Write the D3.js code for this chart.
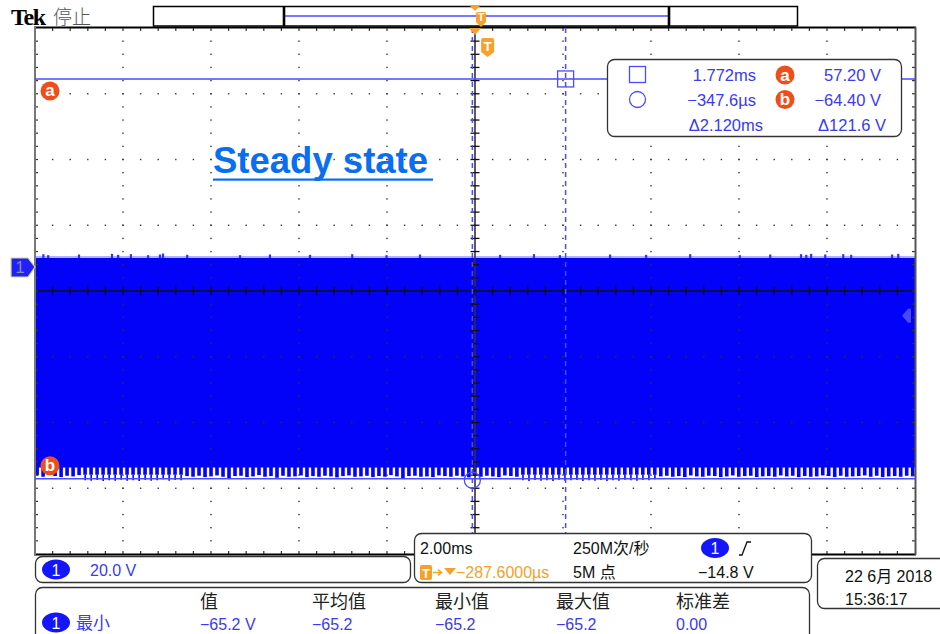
<!DOCTYPE html>
<html>
<head>
<meta charset="utf-8">
<script src="https://cdn.jsdelivr.net/npm/d3@7"></script>
<style>
body { margin: 0; background: #fff; }
svg { display: block; }
text { font-family: "Liberation Sans", Arial, "Noto Sans CJK SC", sans-serif; }
</style>
</head>
<body>
<div id="scope"></div>
<script>
// ---- data ----
var timeDomain = [-10.2876, 9.7124];   // ms, 2.00 ms/div, 10 div, centre at -287.6 µs
var voltDomain = [-87.3, 72.7];        // V, 20.0 V/div, 8 div
var cursorTimes = [1.772, -0.3476];    // ms  (square, circle)
var cursorVolts = [57.20, -64.40];     // V   (a, b)
var triggerTime = 0;
var triggerLevel = -14.8;
var groundLevel = 0;

// envelope of the dense ch1 trace
var bandTop = 2.74;
var bandBase = -61.0;
var topSpikeTimes = [-10.10, -9.99, -9.29, -8.54, -8.40, -8.11, -7.72, -7.45, -7.38, -6.83, -5.63, -4.95,
                     -4.04, -3.08, -2.30, -1.54, 0.28, 1.05, 1.64, 2.78, 3.60, 4.60, 5.73, 6.42,
                     7.12, 7.24, 7.35, 7.67, 8.08, 8.26, 9.19, 9.33];
var topSpikeVolts = [3.9, 3.6, 3.8, 4.0, 3.7, 3.9, 3.6, 3.8, 4.1, 3.7, 3.6, 3.8,
                     3.7, 3.9, 3.6, 3.8, 3.7, 3.9, 3.6, 3.8, 3.7, 3.9, 3.6, 3.8,
                     3.9, 3.7, 4.0, 3.8, 3.9, 3.7, 3.8, 4.0];
var bottomPeaks = [
  -63.4,-63.8,-63.2,-63.6,-63.9,-63.5,-63.7,-63.3,
  -64.9,-65.0,-64.8,-65.1,-64.9,-65.0,-64.7,-65.0,-64.9,-65.1,-64.8,-65.0,-64.9,-64.6,-65.0,-64.8,-64.9,
  -63.6,-63.8,-63.5,-63.9,-63.7,-63.4,-63.8,-64.2,-63.6,-63.5,
  -63.9,-63.7,-63.3,-63.8,-63.6,-64.1,-63.5,-63.8,-63.7,-63.4,
  -63.9,-63.6,-63.8,-63.5,-63.7,-64.0,-63.6,-63.4,-63.8,-63.7,
  -63.5,-63.9,-63.6,-63.8,-63.3,-63.7,-64.2,-63.6,-63.5,-63.8,
  -63.7,-63.9,-63.4,-63.6,-63.8,-63.5,-63.7,-64.0,-63.6,-63.8,
  -63.5,-63.7,-63.9,-63.4,-63.6,-63.8,
  -64.9,-65.1,-64.8,-65.0,-64.9,-65.1,-64.7,-65.0,-64.9,-64.8,-65.1,-64.9,-65.0,-64.8,-65.1,-64.9,-65.0,-64.7,-64.9,-65.0,-64.8,-64.9,-64.6,
  -63.7,-63.5,-63.8,-63.6,-63.9,-63.4,-63.7,-63.8,-63.5,-63.6,
  -63.9,-63.7,-63.4,-63.8,-63.6,-63.5,-63.9,-63.7,-63.6,-63.8,
  -63.4,-63.7,-63.5,-63.9,-63.6,-63.8,-63.7,-63.4,-63.6,-63.9,
  -63.5,-63.8,-63.7,-63.6,-63.4,-63.8,-63.5,-63.9,-63.7,-63.6,
  -63.8,-63.5,-63.7
];

// readouts
var readTimes = ["1.772ms", "\u2212347.6\u00b5s"];
var readVolts = ["57.20 V", "\u221264.40 V"];
var readDeltaT = "\u03942.120ms";
var readDeltaV = "\u0394121.6 V";
var chScale = "20.0 V";
var timeScale = "2.00ms";
var sampleRate = "250M\u6b21/\u79d2";
var recordLen = "5M \u70b9";
var trigPos = "\u2212287.6000\u00b5s";
var trigLevelText = "\u221214.8 V";
var measHeaders = ["\u503c", "\u5e73\u5747\u503c", "\u6700\u5c0f\u503c", "\u6700\u5927\u503c", "\u6807\u51c6\u5dee"];
var measValues = ["\u221265.2 V", "\u221265.2", "\u221265.2", "\u221265.2", "0.00"];
var measName = "\u6700\u5c0f";
var dateText = ["22 6\u6708 2018", "15:36:17"];

var W = 940, H = 634;
var plotL = 35, plotR = 915, plotT = 28, plotB = 554;

var waveBlue = "#0202f8";
var curBlue = "#4b4bff";
var txtBlue = "#3a3af2";
var orange = "#f7a12a";
var badgeRed = "#ee4f1a";

var svg = d3.select("#scope").append("svg")
    .attr("width", W)
    .attr("height", H);

var x = d3.scaleLinear().domain(timeDomain).range([plotL, plotR]);
var y = d3.scaleLinear().domain(voltDomain).range([plotB, plotT]);

// graticule positions
var divX = d3.range(11).map(function(i) { return timeDomain[0] + i * 2; });
var divY = d3.range(9).map(function(i) { return voltDomain[0] + i * 20; });
var subX = d3.range(51).map(function(i) { return timeDomain[0] + i * 0.4; });
var subY = d3.range(41).map(function(i) { return voltDomain[0] + i * 4; });

// ---- waveform ----
var wave = svg.append("g");

wave.append("rect")
    .attr("x", plotL)
    .attr("width", plotR - plotL)
    .attr("y", y(bandTop))
    .attr("height", y(bandBase) - y(bandTop))
    .attr("fill", waveBlue);

wave.append("line")
    .attr("x1", plotL).attr("x2", plotR)
    .attr("y1", y(bandTop) - 1).attr("y2", y(bandTop) - 1)
    .attr("stroke", "#6a6aff")
    .attr("stroke-width", 1);

wave.selectAll(".spikeTop")
    .data(topSpikeTimes)
    .enter()
    .append("rect")
    .attr("x", function(d) { return x(d) - 1; })
    .attr("width", 2.2)
    .attr("y", function(d, i) { return y(topSpikeVolts[i]); })
    .attr("height", function(d, i) { return y(bandTop) - y(topSpikeVolts[i]); })
    .attr("fill", "#3030ff");

var pulseAt = d3.scaleLinear()
    .domain([0, bottomPeaks.length - 1])
    .range([timeDomain[0] + 0.05, timeDomain[1] - 0.05]);

wave.selectAll(".pulse")
    .data(bottomPeaks)
    .enter()
    .append("rect")
    .attr("x", function(d, i) { return x(pulseAt(i)) - 1.9; })
    .attr("width", 3.6)
    .attr("y", y(bandBase) - 0.5)
    .attr("height", function(d) {
        var end = d < -64.2 ? -63.2 : d;
        return y(end) - y(bandBase) + 0.5;
    })
    .attr("fill", waveBlue);

wave.selectAll(".pulseTail")
    .data(bottomPeaks.map(function(d, i) { return { v: d, i: i }; }).filter(function(d) { return d.v < -64.2; }))
    .enter()
    .append("line")
    .attr("x1", function(d) { return x(pulseAt(d.i)); })
    .attr("x2", function(d) { return x(pulseAt(d.i)); })
    .attr("y1", y(-63.2))
    .attr("y2", function(d) { return y(d.v); })
    .attr("stroke", waveBlue)
    .attr("stroke-width", 1.6);

// ---- graticule ----
var grid = svg.append("g");

divX.slice(1, 10).forEach(function(t, i) {
    if (i === 4) return;
    subY.slice(1, 40).forEach(function(v) {
        grid.append("rect").attr("x", x(t) - 0.7).attr("y", y(v) - 0.7)
            .attr("width", 1.4).attr("height", 1.4).attr("fill", "#333");
    });
});
divY.slice(1, 8).forEach(function(v, j) {
    if (j === 3) return;
    subX.slice(1, 50).forEach(function(t) {
        grid.append("rect").attr("x", x(t) - 0.7).attr("y", y(v) - 0.7)
            .attr("width", 1.4).attr("height", 1.4).attr("fill", "#333");
    });
});

var cx = x(divX[5]), cy = y(divY[4]);

grid.append("line").attr("x1", plotL).attr("x2", plotR).attr("y1", cy).attr("y2", cy)
    .attr("stroke", "#111").attr("stroke-width", 1.6);
grid.append("line").attr("x1", cx).attr("x2", cx).attr("y1", plotT).attr("y2", plotB)
    .attr("stroke", "#333").attr("stroke-width", 1.6);

subX.slice(1, 50).forEach(function(t) {
    grid.append("line").attr("x1", x(t)).attr("x2", x(t)).attr("y1", cy - 4.5).attr("y2", cy + 4.5)
        .attr("stroke", "#111").attr("stroke-width", 1.3);
    grid.append("line").attr("x1", x(t)).attr("x2", x(t)).attr("y1", plotT).attr("y2", plotT + 3)
        .attr("stroke", "#333").attr("stroke-width", 1.2);
    grid.append("line").attr("x1", x(t)).attr("x2", x(t)).attr("y1", plotB - 3).attr("y2", plotB)
        .attr("stroke", "#333").attr("stroke-width", 1.2);
});
subY.slice(1, 40).forEach(function(v) {
    grid.append("line").attr("x1", cx - 4.5).attr("x2", cx + 4.5).attr("y1", y(v)).attr("y2", y(v))
        .attr("stroke", "#111").attr("stroke-width", 1.3);
    grid.append("line").attr("x1", plotL).attr("x2", plotL + 3).attr("y1", y(v)).attr("y2", y(v))
        .attr("stroke", "#333").attr("stroke-width", 1.2);
    grid.append("line").attr("x1", plotR - 3).attr("x2", plotR).attr("y1", y(v)).attr("y2", y(v))
        .attr("stroke", "#333").attr("stroke-width", 1.2);
});

// frame
grid.append("line").attr("x1", plotL - 1).attr("x2", plotR + 1).attr("y1", plotT - 0.5).attr("y2", plotT - 0.5)
    .attr("stroke", "#000").attr("stroke-width", 2);
grid.append("line").attr("x1", plotL - 1).attr("x2", plotR + 1).attr("y1", plotB + 0.5).attr("y2", plotB + 0.5)
    .attr("stroke", "#000").attr("stroke-width", 2.2);
grid.append("line").attr("x1", plotL).attr("x2", plotL).attr("y1", plotT - 1).attr("y2", plotB + 1)
    .attr("stroke", "#777").attr("stroke-width", 2);
grid.append("line").attr("x1", plotR + 0.5).attr("x2", plotR + 0.5).attr("y1", plotT - 1).attr("y2", plotB + 1)
    .attr("stroke", "#555").attr("stroke-width", 2);

// ---- cursors ----
var cur = svg.append("g");

cursorVolts.forEach(function(v) {
    cur.append("line").attr("x1", plotL).attr("x2", plotR).attr("y1", y(v)).attr("y2", y(v))
        .attr("stroke", curBlue).attr("stroke-width", 1.5);
});
cursorTimes.forEach(function(t) {
    cur.append("line").attr("x1", x(t)).attr("x2", x(t)).attr("y1", plotT).attr("y2", plotB)
        .attr("stroke", curBlue).attr("stroke-width", 1.5).attr("stroke-dasharray", "5,4");
});
cur.append("rect")
    .attr("x", x(cursorTimes[0]) - 8).attr("y", y(cursorVolts[0]) - 8)
    .attr("width", 16).attr("height", 16)
    .attr("fill", "none").attr("stroke", curBlue).attr("stroke-width", 1.3);
cur.append("circle")
    .attr("cx", x(cursorTimes[1])).attr("cy", y(cursorVolts[1]) + 1.5).attr("r", 8)
    .attr("fill", "none").attr("stroke", curBlue).attr("stroke-width", 1.3);

function badge(g, bx, by, letter) {
    g.append("circle").attr("cx", bx).attr("cy", by).attr("r", 9.5).attr("fill", badgeRed);
    g.append("text").attr("x", bx).attr("y", by + 5.5).attr("text-anchor", "middle")
        .attr("font-size", 17).attr("font-weight", "bold").attr("fill", "#fff").text(letter);
}
badge(cur, 50, y(cursorVolts[0]) + 12, "a");
badge(cur, 50, y(cursorVolts[1]) - 13, "b");

// channel 1 ground marker
var gy = y(groundLevel);
cur.append("path")
    .attr("d", "M11," + (gy - 9) + " H28 L35," + gy + " L28," + (gy + 10) + " H11 Z")
    .attr("fill", "#2020ff").attr("stroke", "#d8d890").attr("stroke-width", 1.2).attr("stroke-linejoin", "round");
cur.append("text").attr("x", 20).attr("y", gy + 6).attr("text-anchor", "middle")
    .attr("font-size", 17).attr("fill", "#8a8a9a").text("1");

// trigger level arrow on the right
var ty = y(triggerLevel);
cur.append("path")
    .attr("d", "M902," + ty + " L908," + (ty - 7) + " H911 V" + (ty + 7) + " H908 Z")
    .attr("fill", "#7878ff").attr("opacity", 0.6);

// trigger T markers
function tBadge(g, bx, by, w, h) {
    var r = 2;
    g.append("path")
        .attr("d", "M" + (bx - w / 2) + "," + (by + r) + " Q" + (bx - w / 2) + "," + by + " " + (bx - w / 2 + r) + "," + by +
            " H" + (bx + w / 2 - r) + " Q" + (bx + w / 2) + "," + by + " " + (bx + w / 2) + "," + (by + r) +
            " V" + (by + h - 5) + " L" + bx + "," + (by + h) + " L" + (bx - w / 2) + "," + (by + h - 5) + " Z")
        .attr("fill", orange);
    g.append("text").attr("x", bx).attr("y", by + h - 6).attr("text-anchor", "middle")
        .attr("font-size", h * 0.72).attr("font-weight", "bold").attr("fill", "#fff").text("T");
}
cur.append("path").attr("d", "M" + (cx - 6) + "," + plotT + " H" + (cx + 6) + " L" + cx + "," + (plotT + 7) + " Z")
    .attr("fill", orange);
tBadge(cur, x(triggerTime), 38, 13, 19);

// ---- top bar ----
var bar = svg.append("g");
bar.append("text").attr("x", 11).attr("y", 25)
    .style("font-family", "'Liberation Serif', serif").attr("font-weight", "bold")
    .attr("font-size", 24).attr("letter-spacing", -1.4).attr("fill", "#000").text("Tek");
bar.append("text").attr("x", 53).attr("y", 24)
    .style("font-family", "'Noto Sans CJK SC', sans-serif").attr("font-weight", 300)
    .attr("font-size", 19).attr("fill", "#555").text("\u505c\u6b62");
bar.append("rect").attr("x", 153.5).attr("y", 6.5).attr("width", 644).attr("height", 19.5)
    .attr("fill", "#fff").attr("stroke", "#000").attr("stroke-width", 1.5);
bar.append("line").attr("x1", 285).attr("x2", 668).attr("y1", 16).attr("y2", 16)
    .attr("stroke", curBlue).attr("stroke-width", 1.6);
[284, 669].forEach(function(bx) {
    bar.append("line").attr("x1", bx).attr("x2", bx).attr("y1", 6).attr("y2", 26.5)
        .attr("stroke", "#000").attr("stroke-width", 2.6);
});
bar.append("path").attr("d", "M" + (cx - 6) + ",5 H" + (cx + 6) + " L" + cx + ",11 Z").attr("fill", orange);
tBadge(bar, cx + 6, 12, 10, 15);

// ---- Steady state label ----
svg.append("text").attr("x", 213).attr("y", 173)
    .attr("font-size", 36.5).attr("font-weight", "bold").attr("fill", "#0a6ef0").text("Steady state");
svg.append("rect").attr("x", 213).attr("y", 178.5).attr("width", 220).attr("height", 2.2).attr("fill", "#0a6ef0");

// ---- cursor readout ----
var ro = svg.append("g");
ro.append("rect").attr("x", 607.5).attr("y", 59.5).attr("width", 294).attr("height", 77).attr("rx", 7)
    .attr("fill", "#fff").attr("stroke", "#333").attr("stroke-width", 1.3);
ro.append("rect").attr("x", 629.5).attr("y", 66.5).attr("width", 16).attr("height", 16)
    .attr("fill", "none").attr("stroke", curBlue).attr("stroke-width", 1.3);
ro.append("circle").attr("cx", 637.5).attr("cy", 99.5).attr("r", 8)
    .attr("fill", "none").attr("stroke", curBlue).attr("stroke-width", 1.3);
readTimes.forEach(function(s, i) {
    ro.append("text").attr("x", 756).attr("y", 81 + i * 24.5).attr("text-anchor", "end")
        .attr("font-size", 16.5).attr("fill", txtBlue).text(s);
});
readVolts.forEach(function(s, i) {
    ro.append("text").attr("x", 881).attr("y", 81 + i * 24.5).attr("text-anchor", "end")
        .attr("font-size", 16.5).attr("fill", txtBlue).text(s);
});
badge(ro, 785, 75, "a");
badge(ro, 785, 99.5, "b");
ro.append("text").attr("x", 763).attr("y", 130.5).attr("text-anchor", "end")
    .attr("font-size", 16.5).attr("fill", txtBlue).text(readDeltaT);
ro.append("text").attr("x", 886).attr("y", 130.5).attr("text-anchor", "end")
    .attr("font-size", 16.5).attr("fill", txtBlue).text(readDeltaV);

// ---- bottom panels ----
var bp = svg.append("g");

function panel(px, py, pw, ph) {
    bp.append("rect").attr("x", px).attr("y", py).attr("width", pw).attr("height", ph).attr("rx", 7)
        .attr("fill", "#fff").attr("stroke", "#333").attr("stroke-width", 1.3);
}
function chBadge(bx, by) {
    bp.append("ellipse").attr("cx", bx).attr("cy", by).attr("rx", 14).attr("ry", 10).attr("fill", "#1414ff");
    bp.append("text").attr("x", bx).attr("y", by + 6).attr("text-anchor", "middle")
        .attr("font-size", 16).attr("fill", "#fff").text("1");
}

panel(35.5, 556.5, 375, 26);
chBadge(56, 569.5);
bp.append("text").attr("x", 90).attr("y", 576).attr("font-size", 16).attr("fill", txtBlue).text(chScale);

panel(414.5, 533.5, 397, 49);
bp.append("text").attr("x", 420).attr("y", 554).attr("font-size", 16).attr("fill", "#111").text(timeScale);
bp.append("text").attr("x", 573).attr("y", 554).attr("font-size", 16).attr("fill", "#111").text(sampleRate);
chBadge(715, 548);
bp.append("path").attr("d", "M739,555 H742 L747,542 H751")
    .attr("fill", "none").attr("stroke", "#111").attr("stroke-width", 1.3);
bp.append("rect").attr("x", 420).attr("y", 565).attr("width", 12).attr("height", 15).attr("rx", 2).attr("fill", orange);
bp.append("text").attr("x", 426).attr("y", 578).attr("text-anchor", "middle")
    .attr("font-size", 13).attr("font-weight", "bold").attr("fill", "#fff").text("T");
bp.append("path").attr("d", "M433,572.5 H441 M438,569.5 L441.5,572.5 L438,575.5")
    .attr("fill", "none").attr("stroke", orange).attr("stroke-width", 1.6);
bp.append("path").attr("d", "M444,568 H456 L450,575 Z").attr("fill", orange);
bp.append("text").attr("x", 456).attr("y", 578).attr("font-size", 16).attr("fill", orange).text(trigPos);
bp.append("text").attr("x", 573).attr("y", 578).attr("font-size", 16).attr("fill", "#111").text(recordLen);
bp.append("text").attr("x", 698).attr("y", 578).attr("font-size", 16).attr("fill", "#111").text(trigLevelText);

panel(817.5, 558.5, 130, 50);
dateText.forEach(function(s, i) {
    bp.append("text").attr("x", 845).attr("y", 582 + i * 23).attr("font-size", 16).attr("fill", "#111").text(s);
});

panel(35.5, 587.5, 774, 60);
var measX = [200, 312, 435, 556, 676];
measHeaders.forEach(function(s, i) {
    bp.append("text").attr("x", measX[i]).attr("y", 608)
        .style("font-family", "'Noto Sans CJK SC', sans-serif")
        .attr("font-size", 18).attr("fill", "#222").text(s);
});
measValues.forEach(function(s, i) {
    bp.append("text").attr("x", measX[i]).attr("y", 630).attr("font-size", 16).attr("fill", txtBlue).text(s);
});
chBadge(56, 622.5);
bp.append("text").attr("x", 76).attr("y", 629)
    .style("font-family", "'Noto Sans CJK SC', sans-serif")
    .attr("font-size", 17).attr("fill", txtBlue).text(measName);
</script>
</body>
</html>
